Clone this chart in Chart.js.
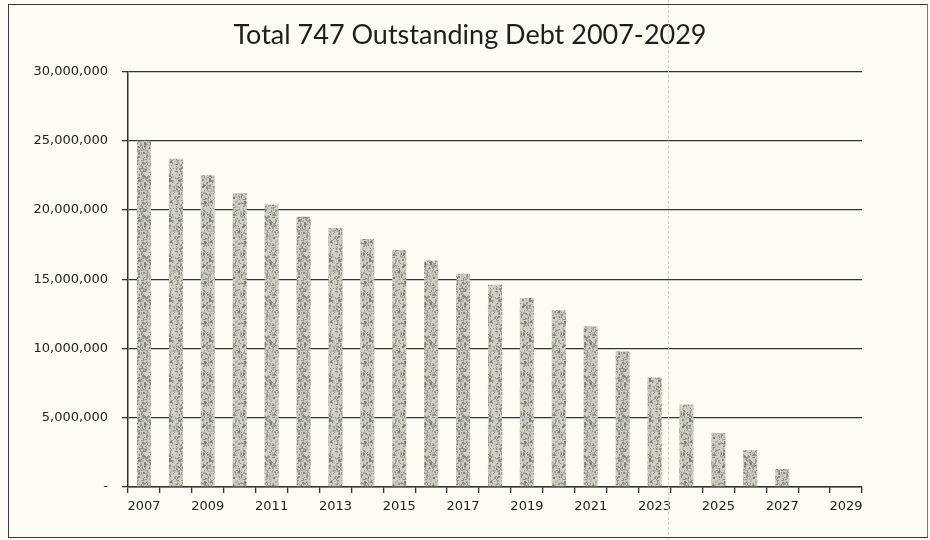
<!DOCTYPE html>
<html>
<head>
<meta charset="utf-8">
<title>Total 747 Outstanding Debt 2007-2029</title>
<script src="https://cdn.jsdelivr.net/npm/chart.js@4.4.1/dist/chart.umd.min.js"></script>
<style>
  body { margin: 0; background: #fdfcf2; }
  #wrap { position: relative; width: 930px; height: 540px; background: #fdfcf2; }
  #frame { position: absolute; left: 8px; top: 4px; width: 918px; height: 532px; border: 1.5px solid #3a3a3a; border-right: 1px solid #777; pointer-events: none; }
  #fold { position: absolute; left: 668px; top: 0; height: 540px; border-left: 1px dashed #d2cfc2; pointer-events: none; }
</style>
</head>
<body>
<div id="wrap">
  <canvas id="debt-chart" width="930" height="540"></canvas>
  <div id="fold"></div>
  <div id="frame"></div>
</div>
<script>
const years = ["2007", "2008", "2009", "2010", "2011", "2012", "2013", "2014", "2015", "2016", "2017", "2018",
  "2019", "2020", "2021", "2022", "2023", "2024", "2025", "2026", "2027", "2028", "2029"];
const debt = [25000000, 23700000, 22500000, 21200000, 20400000, 19500000, 18700000, 17900000, 17100000, 16350000,
  15400000, 14600000, 13650000, 12750000, 11600000, 9800000, 7900000, 5950000, 3900000, 2650000, 1300000, 0, 0];
const yTicks = [0, 5000000, 10000000, 15000000, 20000000, 25000000, 30000000];

// speckled grey fill, like the photocopied bars
function speckle() {
  const c = document.createElement("canvas");
  c.width = 40; c.height = 40;
  const g = c.getContext("2d");
  g.fillStyle = "#d2cfc3";
  g.fillRect(0, 0, 40, 40);
  let seed = 7;
  const rnd = () => (seed = (seed * 16807) % 2147483647) / 2147483647;
  for (let i = 0; i < 650; i++) {
    const shade = 120 + Math.floor(rnd() * 90);
    g.fillStyle = `rgb(${shade},${shade},${shade - 10})`;
    g.fillRect(Math.floor(rnd() * 40), Math.floor(rnd() * 40), 1 + Math.floor(rnd() * 2), 1 + Math.floor(rnd() * 2));
  }
  return g.createPattern(c, "repeat");
}

const ctx = document.getElementById("debt-chart").getContext("2d");
const chart = new Chart(ctx, {
  type: "bar",
  data: {
    labels: years,
    datasets: [{
      label: "Outstanding Debt",
      data: debt,
      backgroundColor: speckle(),
      borderWidth: 0,
      barPercentage: 0.44,
      categoryPercentage: 1,
    }],
  },
  options: {
    responsive: false,
    animation: false,
    layout: { padding: { top: 14, right: 0, bottom: 12, left: 10 } },
    plugins: {
      legend: { display: false },
      tooltip: { enabled: false },
      title: {
        display: true,
        text: "Total 747 Outstanding Debt 2007-2029",
        color: "#1e1e1e",
        font: { family: "Lato", size: 27, weight: "normal" },
        padding: { top: 5, bottom: 20 },
      },
    },
    scales: {
      x: {
        grid: { offset: true, drawOnChartArea: false, drawTicks: true, tickLength: 6, color: "#333", lineWidth: 1.3 },
        border: { display: true, color: "#333", width: 1.5 },
        ticks: {
          autoSkip: false, maxRotation: 0, padding: 6, color: "#222",
          font: { family: "DejaVu Sans", size: 13 },
          callback: (v, i) => (i % 2 === 0 ? years[i] : ""),
        },
        afterFit: (s) => { s.height = 41; },
      },
      y: {
        min: 0,
        max: 30000000,
        afterBuildTicks: (s) => { s.ticks = yTicks.map(v => ({ value: v })); },
        grid: { color: "#333", lineWidth: 1.3, tickLength: 6 },
        border: { display: true, color: "#333", width: 1.5 },
        ticks: {
          padding: 14, color: "#222",
          font: { family: "DejaVu Sans", size: 13 },
          callback: (v) => (v === 0 ? "-" : v.toLocaleString("en-US")),
        },
        afterFit: (s) => { s.width = 118; },
      },
      // empty right-hand axis, only to leave the blank margin right of the plot
      yRight: {
        position: "right",
        grid: { display: false },
        border: { display: false },
        ticks: { display: false },
        afterFit: (s) => { s.width = 68; },
      },
    },
  },
});
</script>
</body>
</html>
